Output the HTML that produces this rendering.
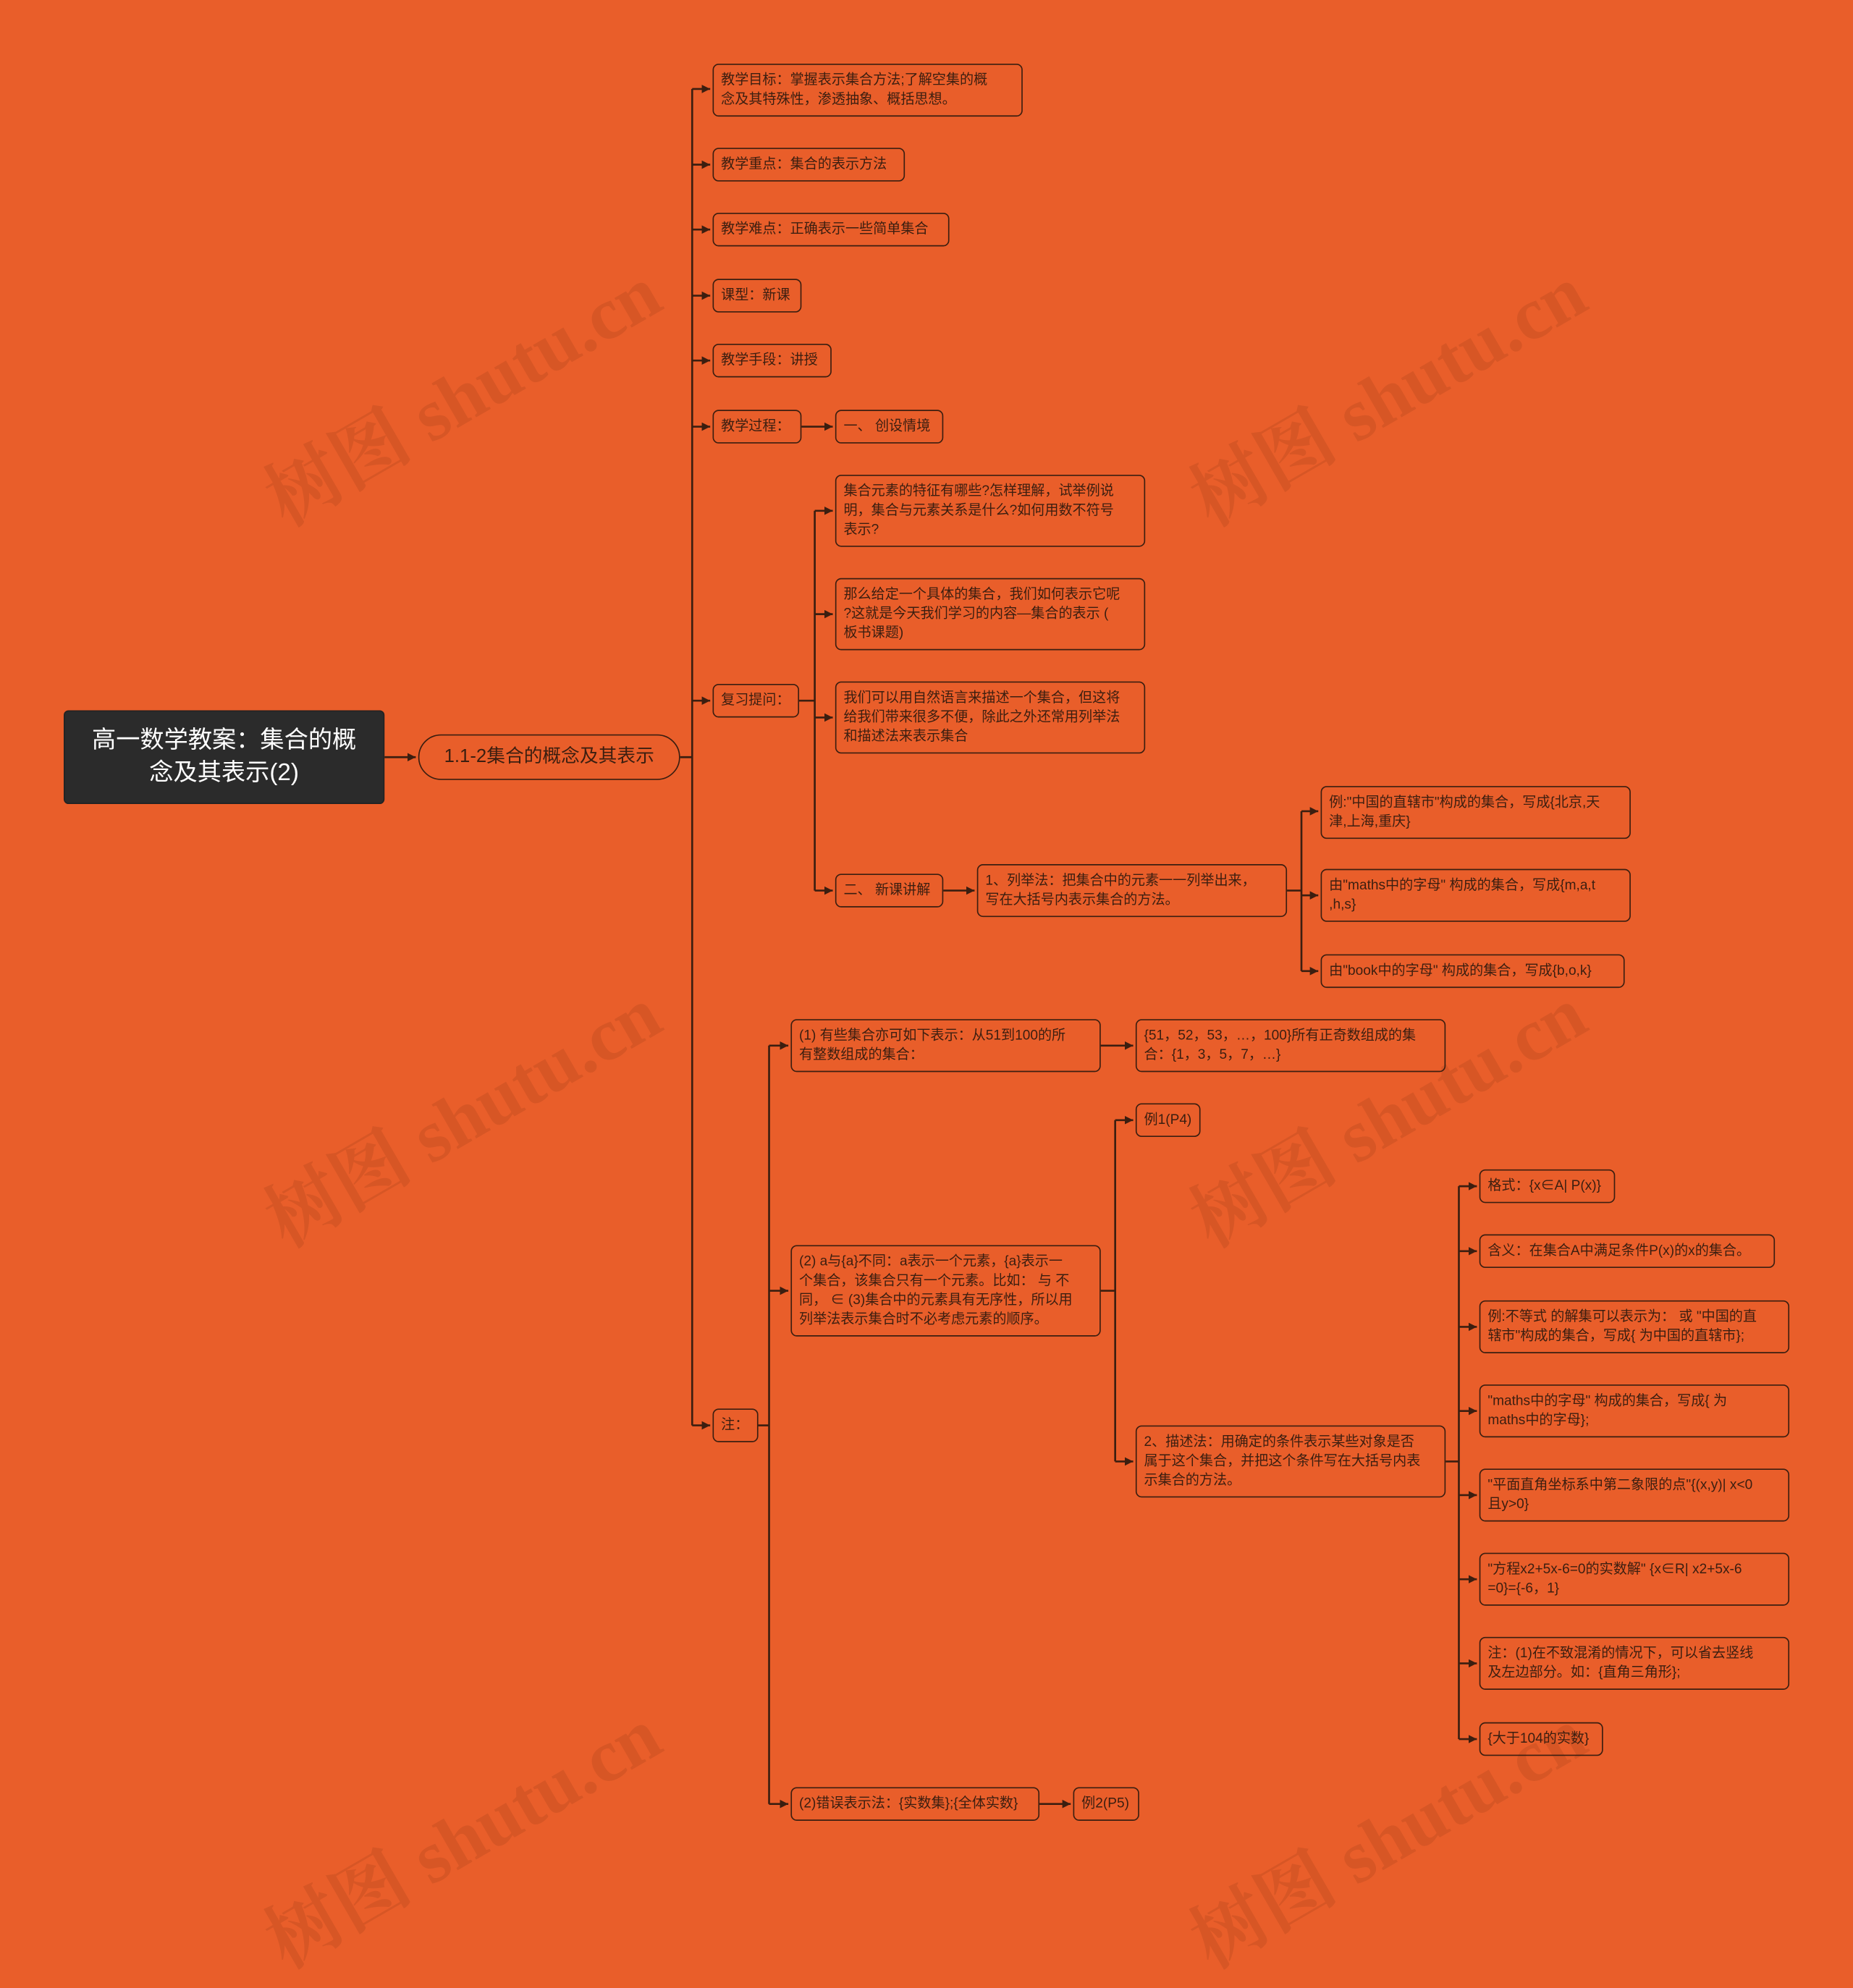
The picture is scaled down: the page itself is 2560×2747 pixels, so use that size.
<!DOCTYPE html>
<html><head><meta charset="utf-8"><style>
html,body{margin:0;padding:0;background:#E95E2A;}
body{width:2560px;height:2604px;overflow:hidden;position:relative;}
#w{position:absolute;left:0;top:0;width:1542px;height:1568px;transform:scale(1.6602,1.6607);transform-origin:0 0;font-family:"Liberation Sans","Noto Sans CJK SC",sans-serif;}
.n{position:absolute;box-sizing:border-box;border:1.3px solid #3b1e10;border-radius:5px;color:#3b1e10;font-size:11.5px;line-height:16px;padding:5px 6px;white-space:nowrap;overflow:hidden}
.wm{position:absolute;font-size:62px;color:rgba(60,20,0,0.10);transform:rotate(-30deg);white-space:nowrap;font-family:"Liberation Serif","Noto Serif CJK SC",serif;font-weight:bold}
svg{position:absolute;left:0;top:0}
</style></head><body><div id="w">
<div class="wm" style="left:200px;top:280px">树图 shutu.cn</div>
<div class="wm" style="left:970px;top:280px">树图 shutu.cn</div>
<div class="wm" style="left:200px;top:880px">树图 shutu.cn</div>
<div class="wm" style="left:970px;top:880px">树图 shutu.cn</div>
<div class="wm" style="left:200px;top:1480px">树图 shutu.cn</div>
<div class="wm" style="left:970px;top:1480px">树图 shutu.cn</div>
<svg width="1542" height="1568" viewBox="0 0 1542 1568">
<defs><marker id="a" markerWidth="8" markerHeight="8" refX="7" refY="4" orient="auto" markerUnits="userSpaceOnUse"><path d="M0,0.5 L7,4 L0,7.5z" fill="#3b1e10"/></marker></defs>
<g stroke="#3b1e10" stroke-width="1.6" fill="none">
<path d="M320,630 H346" marker-end="url(#a)"/>
<path d="M566,630 H576"/>
<path d="M576,74 V1186"/>
<path d="M576,74 H591" marker-end="url(#a)"/>
<path d="M576,137 H591" marker-end="url(#a)"/>
<path d="M576,191 H591" marker-end="url(#a)"/>
<path d="M576,246 H591" marker-end="url(#a)"/>
<path d="M576,300 H591" marker-end="url(#a)"/>
<path d="M576,355 H591" marker-end="url(#a)"/>
<path d="M576,583 H591" marker-end="url(#a)"/>
<path d="M576,1186 H591" marker-end="url(#a)"/>
<path d="M667,355 H693" marker-end="url(#a)"/>
<path d="M665,583 H678"/>
<path d="M678,425 V741"/>
<path d="M678,425 H693" marker-end="url(#a)"/>
<path d="M678,511 H693" marker-end="url(#a)"/>
<path d="M678,597 H693" marker-end="url(#a)"/>
<path d="M678,741 H693" marker-end="url(#a)"/>
<path d="M785,741 H811" marker-end="url(#a)"/>
<path d="M1071,741 H1083"/>
<path d="M1083,675 V808"/>
<path d="M1083,675 H1097" marker-end="url(#a)"/>
<path d="M1083,745 H1097" marker-end="url(#a)"/>
<path d="M1083,808 H1097" marker-end="url(#a)"/>
<path d="M631,1186 H640"/>
<path d="M640,870 V1501"/>
<path d="M640,870 H656" marker-end="url(#a)"/>
<path d="M640,1074 H656" marker-end="url(#a)"/>
<path d="M640,1501 H656" marker-end="url(#a)"/>
<path d="M916,870 H943" marker-end="url(#a)"/>
<path d="M916,1074 H928"/>
<path d="M928,932 V1216"/>
<path d="M928,932 H943" marker-end="url(#a)"/>
<path d="M928,1216 H943" marker-end="url(#a)"/>
<path d="M1203,1216 H1214"/>
<path d="M1214,987 V1447"/>
<path d="M1214,987 H1229" marker-end="url(#a)"/>
<path d="M1214,1041 H1229" marker-end="url(#a)"/>
<path d="M1214,1104 H1229" marker-end="url(#a)"/>
<path d="M1214,1174 H1229" marker-end="url(#a)"/>
<path d="M1214,1244 H1229" marker-end="url(#a)"/>
<path d="M1214,1314 H1229" marker-end="url(#a)"/>
<path d="M1214,1384 H1229" marker-end="url(#a)"/>
<path d="M1214,1447 H1229" marker-end="url(#a)"/>
<path d="M865,1501 H891" marker-end="url(#a)"/>
</g></svg>
<div class="n" style="left:53px;top:591px;width:267px;height:78px;background:#2b2b2b;color:#fff;font-size:20px;line-height:27px;text-align:center;white-space:normal;padding:11px 14px;border-radius:4px;border-color:#222">高一数学教案：集合的概念及其表示(2)</div>
<div class="n" style="left:348px;top:611px;width:218px;height:38px;border-radius:19px;font-size:15.5px;line-height:26px;text-align:center;border-width:1.8px">1.1-2集合的概念及其表示</div>
<div class="n" style="left:593px;top:53px;width:258px;height:44px">教学目标：掌握表示集合方法;了解空集的概<br>念及其特殊性，渗透抽象、概括思想。</div>
<div class="n" style="left:593px;top:123px;width:160px;height:28px">教学重点：集合的表示方法</div>
<div class="n" style="left:593px;top:177px;width:197px;height:28px">教学难点：正确表示一些简单集合</div>
<div class="n" style="left:593px;top:232px;width:74px;height:28px">课型：新课</div>
<div class="n" style="left:593px;top:286px;width:99px;height:28px">教学手段：讲授</div>
<div class="n" style="left:593px;top:341px;width:74px;height:28px">教学过程：</div>
<div class="n" style="left:695px;top:341px;width:90px;height:28px">一、 创设情境</div>
<div class="n" style="left:593px;top:569px;width:72px;height:28px">复习提问：</div>
<div class="n" style="left:695px;top:395px;width:258px;height:60px">集合元素的特征有哪些?怎样理解，试举例说<br>明，集合与元素关系是什么?如何用数不符号<br>表示?</div>
<div class="n" style="left:695px;top:481px;width:258px;height:60px">那么给定一个具体的集合，我们如何表示它呢<br>?这就是今天我们学习的内容—集合的表示 (<br>板书课题)</div>
<div class="n" style="left:695px;top:567px;width:258px;height:60px">我们可以用自然语言来描述一个集合，但这将<br>给我们带来很多不便，除此之外还常用列举法<br>和描述法来表示集合</div>
<div class="n" style="left:695px;top:727px;width:90px;height:28px">二、 新课讲解</div>
<div class="n" style="left:813px;top:719px;width:258px;height:44px">1、列举法：把集合中的元素一一列举出来，<br>写在大括号内表示集合的方法。</div>
<div class="n" style="left:1099px;top:654px;width:258px;height:44px">例:"中国的直辖市"构成的集合，写成{北京,天<br>津,上海,重庆}</div>
<div class="n" style="left:1099px;top:723px;width:258px;height:44px">由"maths中的字母" 构成的集合，写成{m,a,t<br>,h,s}</div>
<div class="n" style="left:1099px;top:794px;width:253px;height:28px">由"book中的字母" 构成的集合，写成{b,o,k}</div>
<div class="n" style="left:593px;top:1172px;width:38px;height:28px">注：</div>
<div class="n" style="left:658px;top:848px;width:258px;height:44px">(1) 有些集合亦可如下表示：从51到100的所<br>有整数组成的集合：</div>
<div class="n" style="left:945px;top:848px;width:258px;height:44px">{51，52，53，…，100}所有正奇数组成的集<br>合：{1，3，5，7，…}</div>
<div class="n" style="left:658px;top:1036px;width:258px;height:76px">(2) a与{a}不同：a表示一个元素，{a}表示一<br>个集合，该集合只有一个元素。比如： 与 不<br>同， ∈ (3)集合中的元素具有无序性，所以用<br>列举法表示集合时不必考虑元素的顺序。</div>
<div class="n" style="left:945px;top:918px;width:54px;height:28px">例1(P4)</div>
<div class="n" style="left:945px;top:1186px;width:258px;height:60px">2、描述法：用确定的条件表示某些对象是否<br>属于这个集合，并把这个条件写在大括号内表<br>示集合的方法。</div>
<div class="n" style="left:1231px;top:973px;width:113px;height:28px">格式：{x∈A| P(x)}</div>
<div class="n" style="left:1231px;top:1027px;width:246px;height:28px">含义：在集合A中满足条件P(x)的x的集合。</div>
<div class="n" style="left:1231px;top:1082px;width:258px;height:44px">例:不等式 的解集可以表示为： 或 "中国的直<br>辖市"构成的集合，写成{ 为中国的直辖市};</div>
<div class="n" style="left:1231px;top:1152px;width:258px;height:44px">"maths中的字母" 构成的集合，写成{ 为<br>maths中的字母};</div>
<div class="n" style="left:1231px;top:1222px;width:258px;height:44px">"平面直角坐标系中第二象限的点"{(x,y)| x&lt;0<br>且y&gt;0}</div>
<div class="n" style="left:1231px;top:1292px;width:258px;height:44px">"方程x2+5x-6=0的实数解" {x∈R| x2+5x-6<br>=0}={-6，1}</div>
<div class="n" style="left:1231px;top:1362px;width:258px;height:44px">注：(1)在不致混淆的情况下，可以省去竖线<br>及左边部分。如：{直角三角形};</div>
<div class="n" style="left:1231px;top:1433px;width:103px;height:28px">{大于104的实数}</div>
<div class="n" style="left:658px;top:1487px;width:207px;height:28px">(2)错误表示法：{实数集};{全体实数}</div>
<div class="n" style="left:893px;top:1487px;width:55px;height:28px">例2(P5)</div>
</div></body></html>
